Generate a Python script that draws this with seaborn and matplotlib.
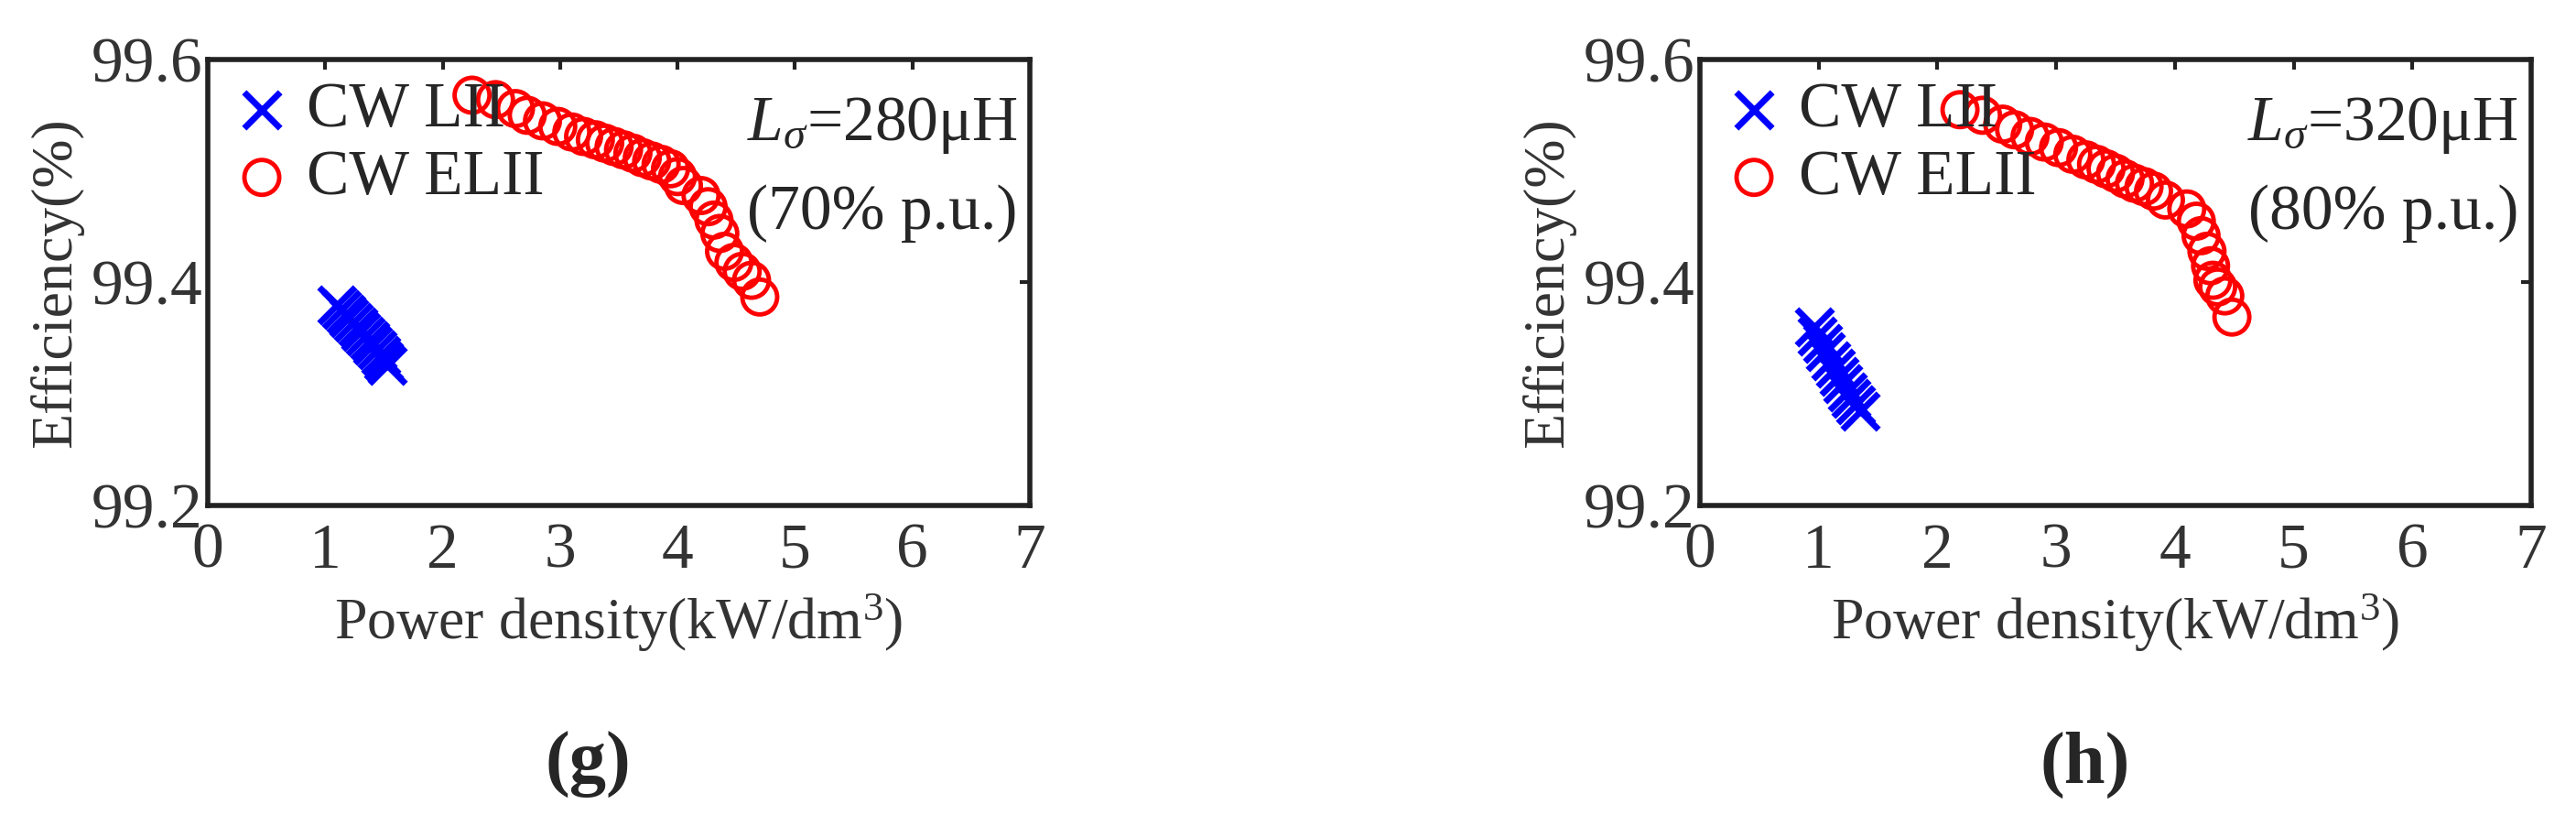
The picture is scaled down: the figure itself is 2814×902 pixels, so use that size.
import matplotlib
matplotlib.use("Agg")
import matplotlib.pyplot as plt
import seaborn as sns
import pandas as pd

sns.set_theme(style="white")
plt.rcParams["font.family"] = ["Liberation Serif", "DejaVu Serif"]
plt.rcParams["mathtext.fontset"] = "custom"
plt.rcParams["mathtext.it"] = "Liberation Serif:italic"
plt.rcParams["mathtext.rm"] = "Liberation Serif"

# ── data ──────────────────────────────────────────────────
g_lii_x = [1.10, 1.14, 1.18, 1.20, 1.24, 1.28, 1.30, 1.34, 1.38, 1.40, 1.44, 1.47, 1.50, 1.53]
g_lii_y = [99.380, 99.376, 99.372, 99.368, 99.364, 99.360, 99.356, 99.352, 99.348, 99.344, 99.340, 99.335, 99.330, 99.326]
g_elii_x = [2.25, 2.45, 2.62, 2.72, 2.85, 2.98, 3.10, 3.20, 3.30, 3.38, 3.46, 3.54, 3.62, 3.70,
            3.78, 3.86, 3.94, 4.00, 4.05, 4.20, 4.26, 4.31, 4.36, 4.40, 4.48, 4.55, 4.63, 4.70]
g_elii_y = [99.568, 99.564, 99.556, 99.550, 99.545, 99.540, 99.535, 99.531, 99.528, 99.525, 99.522, 99.519, 99.516, 99.512,
            99.509, 99.506, 99.502, 99.495, 99.487, 99.478, 99.468, 99.456, 99.444, 99.428, 99.418, 99.410, 99.402, 99.387]

h_lii_x = [0.96, 0.99, 1.03, 1.06, 1.10, 1.14, 1.17, 1.20, 1.24, 1.27, 1.31, 1.35]
h_lii_y = [99.360, 99.352, 99.345, 99.338, 99.330, 99.323, 99.316, 99.309, 99.302, 99.296, 99.290, 99.285]
h_elii_x = [2.19, 2.38, 2.55, 2.65, 2.78, 2.90, 3.02, 3.14, 3.25, 3.34, 3.42, 3.50, 3.58, 3.66,
            3.74, 3.82, 3.92, 4.10, 4.18, 4.22, 4.27, 4.30, 4.32, 4.36, 4.42, 4.48]
h_elii_y = [99.555, 99.550, 99.542, 99.537, 99.531, 99.526, 99.521, 99.515, 99.510, 99.506, 99.502, 99.498, 99.493, 99.489,
            99.486, 99.482, 99.474, 99.466, 99.455, 99.442, 99.428, 99.415, 99.402, 99.396, 99.388, 99.369]

panels = [
    ("g", g_lii_x, g_lii_y, g_elii_x, g_elii_y, "280", "70"),
    ("h", h_lii_x, h_lii_y, h_elii_x, h_elii_y, "320", "80"),
]

W, H = 2814, 902
fig = plt.figure(figsize=(W / 100, H / 100), dpi=100)
boxes = [(227, 1125), (1857, 2765)]
top_px, bot_px = 65, 552

for (x0, x1), (tag, lx, ly, ex, ey, lsig, pu) in zip(boxes, panels):
    ax = fig.add_axes([x0 / W, 1 - bot_px / H, (x1 - x0) / W, (bot_px - top_px) / H])
    df_l = pd.DataFrame({"x": lx, "y": ly})
    df_e = pd.DataFrame({"x": ex, "y": ey})
    sns.scatterplot(data=df_l, x="x", y="y", ax=ax, marker="x", color="#0000ff",
                    s=800, linewidth=5, label="CW LII", zorder=3)
    sns.scatterplot(data=df_e, x="x", y="y", ax=ax, marker="o", facecolor="none",
                    edgecolor="#ff0000", s=750, linewidth=3.5, label="CW ELII", zorder=3)
    ax.set_xlim(0, 7)
    ax.set_ylim(99.2, 99.6)
    ax.set_xticks(range(8))
    ax.set_yticks([99.2, 99.4, 99.6])
    ax.set_yticklabels(["99.2", "99.4", "99.6"])
    ax.tick_params(axis="both", labelsize=50, colors="#222222", direction="in",
                   length=8, width=3, top=True, right=True)
    ax.tick_params(axis="x", pad=14)
    ax.tick_params(axis="y", pad=4)
    ax.tick_params(axis="both", labelcolor="#333333")
    for sp in ax.spines.values():
        sp.set_linewidth(4)
        sp.set_color("#222222")
    ax.set_xlabel("Power density(kW/dm$^3$)", fontsize=46, labelpad=8, color="#333333")
    ax.set_ylabel("Efficiency(%)", fontsize=46, labelpad=6, color="#333333")
    ax.legend(loc="upper left", fontsize=50, frameon=False, handletextpad=0.2,
              borderaxespad=0.05, labelspacing=0.15, handlelength=1.0, borderpad=0.3)
    ax.text(0.985, 0.92, r"$L_{\sigma}$=" + lsig + "μH", transform=ax.transAxes,
            ha="right", va="top", fontsize=50)
    ax.text(0.985, 0.72, f"({pu}% p.u.)", transform=ax.transAxes,
            ha="right", va="top", fontsize=50)
    fig.text((x0 + x1) / 2 / W - 0.012, 1 - 835 / H, f"({tag})", ha="center", va="center",
             fontsize=58, fontweight="bold")

fig.savefig("out.png", dpi=100)
